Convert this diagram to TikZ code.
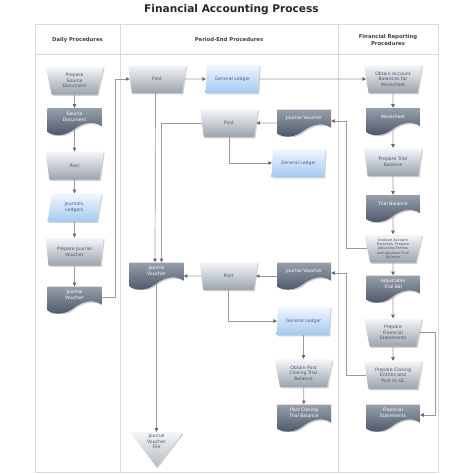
\documentclass[tikz,border=0pt]{standalone}
\usepackage{fontspec}
\setmainfont{DejaVu Sans}
\usetikzlibrary{shapes.geometric,arrows.meta,calc,shadows}
\definecolor{manTop}{HTML}{F6F8FA}
\definecolor{manBot}{HTML}{9AA3AD}
\definecolor{docTop}{HTML}{97A0AA}
\definecolor{docBot}{HTML}{485368}
\definecolor{parTop}{HTML}{F2F7FD}
\definecolor{parBot}{HTML}{A3C9F2}
\definecolor{triTop}{HTML}{F4F6F8}
\definecolor{triBot}{HTML}{B2BAC3}
\definecolor{lineC}{HTML}{9C9C9C}
\definecolor{arrC}{HTML}{6A6A6A}
\definecolor{gridC}{HTML}{DADADA}
\definecolor{txtC}{HTML}{4E5763}
\definecolor{parTxt}{HTML}{4A6283}
\definecolor{headTxt}{HTML}{3E3E3E}
\tikzset{
  nodefont/.style={font=\fontsize{4.6}{5.7}\selectfont},
  softshadow/.style={drop shadow={shadow xshift=1.2pt, shadow yshift=-1.3pt,
    opacity=0.25, fill=black!70}},
  manop/.style={trapezium, trapezium stretches=true, trapezium left angle=78,
    trapezium right angle=78, shape border rotate=180,
    minimum width=58pt, minimum height=28pt, inner sep=0pt, softshadow,
    top color=manTop, bottom color=manBot, text=txtC, nodefont, align=center},
  para/.style={trapezium, trapezium stretches=true, trapezium left angle=79,
    trapezium right angle=101, minimum width=54pt, minimum height=28pt, inner sep=0pt,
    softshadow,
    top color=parTop, bottom color=parBot, text=parTxt, nodefont, align=center},
  docu/.style={rectangle, minimum width=54pt, minimum height=27pt, inner sep=0pt,
    text=white, nodefont, align=center, text depth=10pt,
    path picture={
      \coordinate (pp) at (path picture bounding box.north west);
      \fill[black!70, opacity=0.25]
        ($(pp)+(1.2,1.3)$) -- ($(pp)+(55.2,1.3)$) -- ($(pp)+(55.2,19.3)$)
        .. controls ($(pp)+(48.2,14.3)$) and ($(pp)+(37.2,15.3)$) .. ($(pp)+(28.2,22.3)$)
        .. controls ($(pp)+(19.2,29.3)$) and ($(pp)+(9.2,30.3)$) .. ($(pp)+(1.2,25.3)$) -- cycle;
      \shade[top color=docTop, bottom color=docBot]
        (pp) -- ($(pp)+(54,0)$) -- ($(pp)+(54,18)$)
        .. controls ($(pp)+(47,13)$) and ($(pp)+(36,14)$) .. ($(pp)+(27,21)$)
        .. controls ($(pp)+(18,28)$) and ($(pp)+(8,29)$) .. ($(pp)+(0,24)$) -- cycle;
    }},
  trifile/.style={rectangle, minimum width=53pt, minimum height=35pt, inner sep=0pt,
    text=txtC, nodefont, align=center, text depth=16pt,
    path picture={
      \coordinate (pq) at (path picture bounding box.north west);
      \fill[black!70, opacity=0.25]
        ($(pq)+(1.2,1.3)$) -- ($(pq)+(54.2,1.3)$) -- ($(pq)+(27.7,36.3)$) -- cycle;
      \shade[top color=triTop, bottom color=triBot]
        (pq) -- ($(pq)+(53,0)$) -- ($(pq)+(26.5,35)$) -- cycle;
    }},
  conn/.style={draw=lineC, line width=0.7pt,
    -{Triangle[length=3.6pt,width=3.4pt,color=arrC]}},
  grid/.style={draw=gridC, line width=0.8pt},
  head/.style={font=\fontsize{5.3}{6.6}\selectfont\bfseries, text=headTxt, align=center},
}
\begin{document}
\begin{tikzpicture}[x=1pt,y=-1pt]
\useasboundingbox (0,0) rectangle (474,474);
% title
\node[font=\fontsize{10.6}{13}\selectfont\bfseries, text=black!85] (title) at (231.5,10) {Financial Accounting Process};
% table
\draw[grid] (35,24) rectangle (438,472);
\draw[grid] (35,54) -- (438,54);
\draw[grid] (120,24) -- (120,472);
\draw[grid] (338,24) -- (338,472);
\node[head] (h1) at (77.5,40) {Daily Procedures};
\node[head] (h2) at (229,40) {Period-End Procedures};
\node[head] (h3) at (388,40) {Financial Reporting\\Procedures};
% daily
\node[manop] (psd) at (74.5,80.5) {Prepare\\Source\\Document};
\node[docu] (sd) at (74.5,121.5) {Source\\Document};
\node[manop] (post1) at (74.5,165.5) {Post};
\node[para] (jl) at (74.5,207.5) {Journals,\\Ledgers};
\node[manop] (pjv) at (74.5,251.5) {Prepare Journal\\Voucher};
\node[docu] (jv1) at (74.5,300) {Journal\\Voucher};
% period end
\node[manop] (postA) at (157,79) {Post};
\node[para] (glA) at (232.5,79) {General Ledger};
\node[manop] (postB) at (229,123) {Post};
\node[docu] (jvA) at (304,123) {Journal Voucher};
\node[para] (glB) at (298.5,163) {General Ledger};
\node[docu] (jvL) at (156.5,276) {Journal\\Voucher};
\node[manop] (postC) at (228.5,276) {Post};
\node[docu] (jvB) at (304,276) {Journal Voucher};
\node[para] (glC) at (303.5,321) {General Ledger};
\node[manop] (opc) at (303.5,373) {Obtain Post\\Closing Trial\\Balance};
\node[docu] (pct) at (304,418) {Post Closing\\Trial Balance};
\node[trifile] (jvf) at (156.5,449.5) {Journal\\Voucher\\File};
% reporting
\node[manop] (oab) at (393,79) {Obtain Account\\Balances for\\Worksheet};
\node[docu] (ws) at (393,121.5) {Worksheet};
\node[manop] (ptb) at (393,162) {Prepare Trial\\Balance};
\node[docu] (tb) at (393,208.5) {Trial Balance};
\node[manop, font=\fontsize{3.6}{4.3}\selectfont] (anl) at (393,248.5) {Analyze Account\\Balances, Prepare\\Adjusting Entries\\and Adjusted Trial\\Balance};
\node[docu] (atb) at (393,289) {Adjustable\\Trial Bal};
\node[manop] (pfs) at (393,332.5) {Prepare\\Financial\\Statements};
\node[manop] (pce) at (393,375) {Prepare Closing\\Entries and\\Post to GL};
\node[docu] (fs) at (393,418) {Financial\\Statements};
% connectors daily
\draw[conn] (psd) -- (sd);
\draw[conn] ([yshift=6pt]sd.south) -- (post1);
\draw[conn] (post1) -- (jl);
\draw[conn] (jl) -- (pjv);
\draw[conn] (pjv) -- (jv1);
\draw[conn] ([yshift=3pt]jv1.east) -- ++(14,0) |- (postA.west);
% period end
\draw[conn] (postA) -- (glA);
\draw[conn] (glA) -- (oab);
\draw[conn] ([xshift=-1.5pt]postA.south) -- ([xshift=-1.5pt]jvL.north);
\draw[conn] (postB.west) -| ([xshift=5pt]jvL.north);
\draw[conn] (jvA) -- (postB);
\draw[conn] (postB.south) |- (glB.west);
\draw[conn] (anl.west) -| ([xshift=15pt,yshift=2pt]jvA.east) -- ([yshift=2pt]jvA.east);
\draw[conn] (jvB) -- (postC);
\draw[conn] (postC) -- (jvL);
\draw[conn] (pce.west) -| ([xshift=15pt,yshift=3pt]jvB.east) -- ([yshift=3pt]jvB.east);
\draw[conn] (postC.south) |- (glC.west);
\draw[conn] (glC) -- (opc);
\draw[conn] (opc) -- (pct);
\draw[conn] ([yshift=6pt]jvL.south) -- (jvf);
% reporting
\draw[conn] (oab) -- (ws);
\draw[conn] ([yshift=6pt]ws.south) -- (ptb);
\draw[conn] (ptb) -- (tb);
\draw[conn] ([yshift=6pt]tb.south) -- (anl);
\draw[conn] (anl) -- (atb);
\draw[conn] ([yshift=6pt]atb.south) -- (pfs);
\draw[conn] (pfs) -- (pce);
\draw[conn] (pfs.east) -- ++(16,0) |- ([yshift=3pt]fs.east);
\end{tikzpicture}
\end{document}
